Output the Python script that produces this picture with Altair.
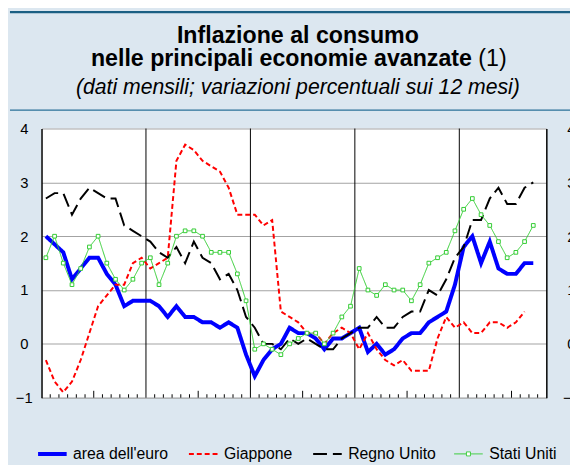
import altair as alt
import pandas as pd

# ---------------- data ----------------
series_names = ["area dell'euro", "Giappone", "Regno Unito", "Stati Uniti"]
series_colors = ["#0000ff", "#ff0000", "#000000", "#33cc33"]
series_dashes = [[1, 0], [5, 3], [14, 6], [1, 0]]

# monthly values, Jan 2013 onwards
euro = [2.0, 1.85, 1.7, 1.2, 1.4, 1.6, 1.6, 1.3, 1.1, 0.7, 0.8, 0.8,
        0.8, 0.7, 0.5, 0.7, 0.5, 0.5, 0.4, 0.4, 0.3, 0.4, 0.3, -0.2,
        -0.6, -0.3, -0.1, 0.0, 0.3, 0.2, 0.2, 0.1, -0.1, 0.1, 0.1, 0.2,
        0.3, -0.15, 0.0, -0.2, -0.1, 0.1, 0.2, 0.2, 0.4, 0.5, 0.6, 1.1,
        1.8, 2.0, 1.5, 1.9, 1.4, 1.3, 1.3, 1.5, 1.5]
japan = [-0.3, -0.7, -0.9, -0.7, -0.3, 0.2, 0.7, 0.9, 1.1, 1.1, 1.5, 1.6,
         1.4, 1.5, 1.6, 3.4, 3.7, 3.6, 3.4, 3.3, 3.2, 2.9, 2.4, 2.4,
         2.4, 2.2, 2.3, 0.6, 0.5, 0.4, 0.2, 0.2, 0.0, 0.2, 0.3, 0.2,
         -0.1, 0.2, -0.1, -0.3, -0.4, -0.3, -0.5, -0.5, -0.5, 0.1, 0.5, 0.3,
         0.4, 0.2, 0.2, 0.4, 0.4, 0.3, 0.4, 0.6]
uk = [2.7, 2.8, 2.8, 2.4, 2.7, 2.9, 2.8, 2.7, 2.7, 2.2, 2.1, 2.0,
      1.9, 1.7, 1.6, 1.8, 1.5, 1.9, 1.6, 1.5, 1.2, 1.3, 1.0, 0.5,
      0.3, 0.0, 0.0, -0.1, 0.1, 0.0, 0.1, 0.0, -0.1, -0.1, 0.1, 0.2,
      0.3, 0.3, 0.5, 0.3, 0.3, 0.5, 0.6, 0.6, 1.0, 0.9, 1.2, 1.6,
      1.8, 2.3, 2.3, 2.7, 2.9, 2.6, 2.6, 2.9, 3.0]
us = [1.6, 2.0, 1.5, 1.1, 1.4, 1.8, 2.0, 1.5, 1.2, 1.0, 1.2, 1.5,
      1.6, 1.1, 1.5, 2.0, 2.1, 2.1, 2.0, 1.7, 1.7, 1.7, 1.3, 0.8,
      -0.1, 0.0, -0.1, -0.2, 0.0, 0.1, 0.2, 0.2, 0.0, 0.2, 0.5, 0.7,
      1.4, 1.0, 0.9, 1.1, 1.0, 1.0, 0.8, 1.1, 1.5, 1.6, 1.7, 2.1,
      2.5, 2.7, 2.4, 2.2, 1.9, 1.6, 1.7, 1.9, 2.2]

year_labels = ["2013", "2014", "2015", "2016", "2017"]
n_months = 58            # Jan 2013 .. Oct 2017 on the axis
y_ticks = [-1, 0, 1, 2, 3, 4]

title_1 = "Inflazione al consumo"
title_2 = "nelle principali economie avanzate"
title_note = "(1)"
subtitle = "(dati mensili; variazioni percentuali sui 12 mesi)"

# ---------------- tables ----------------
rows = []
for name, vals in zip(series_names, [euro, japan, uk, us]):
    for i, v in enumerate(vals):
        rows.append({"series": name, "m": i + 0.5, "v": v})
df = pd.DataFrame(rows)
df_us = df[df["series"] == "Stati Uniti"]

year_bounds = pd.DataFrame({"b": [12 * k for k in range(1, len(year_labels))]})
minor_ticks = pd.DataFrame({"t": [k for k in range(1, n_months) if k % 12 not in (0, 6)]})
mid_ticks = pd.DataFrame({"t": [k for k in range(1, n_months) if k % 12 == 6]})
one = pd.DataFrame({"a": [0]})

# ---------------- style ----------------
FONT = "Liberation Sans"
BG = "#dce7f0"
W, H = 512, 273
GRID = "#a3a3a3"

xscale = alt.Scale(domain=[0, n_months], nice=False, zero=False)
yscale = alt.Scale(domain=[-1, 4], nice=False, zero=False)

label_expr = "[" + ",".join('"%s"' % y for y in year_labels) + "][floor(datum.value / 12)]"
x_axis = alt.Axis(values=[12 * k + 6 for k in range(len(year_labels))], labelExpr=label_expr,
                  ticks=False, tickSize=0, grid=False, domainColor="black", domainWidth=1.5,
                  labelBaseline="middle", labelAlign="center", labelPadding=16,
                  labelFontSize=15, labelFont=FONT, labelColor="black", title=None)
y_axis_left = alt.Axis(values=y_ticks, ticks=False, tickSize=0, grid=True, gridColor=GRID,
                       gridWidth=1.2, domainColor="black", domainWidth=1.5,
                       labelAlign="center", labelBaseline="middle", labelPadding=18,
                       labelFontSize=15, labelFont=FONT, labelColor="black", title=None)
y_axis_right = alt.Axis(values=y_ticks, orient="right", ticks=False, tickSize=0, grid=False,
                        domainColor="black", domainWidth=1.5,
                        labelAlign="center", labelBaseline="middle", labelPadding=25,
                        labelFontSize=15, labelFont=FONT, labelColor="black", title=None)

US_SHAPE = "M-1,0H-0.14M0.14,0H1M-0.14,-0.14H0.14V0.14H-0.14Z"
IS_EURO = "datum.value === \"area dell'euro\""
IS_US = "datum.value === 'Stati Uniti'"
legend = alt.Legend(
    title=None, orient="none", legendX=3, legendY=322, direction="horizontal",
    symbolType=alt.ExprRef(expr=f"{IS_US} ? '{US_SHAPE}' : 'stroke'"),
    symbolStrokeWidth=alt.ExprRef(expr=f"{IS_EURO} ? 4 : ({IS_US} ? 1 : 2)"),
    symbolFillColor=alt.ExprRef(expr=f"{IS_US} ? 'white' : 'transparent'"),
    symbolSize=841, labelFont=FONT, labelFontSize=16,
    labelColor="black", labelOffset=13, columnPadding=16, padding=0,
)

# ---------------- layers ----------------
band_top = alt.Chart(one).mark_rule(color="#1b5f83", strokeWidth=2.2).encode(
    x=alt.value(-32), x2=alt.value(540), y=alt.value(-118))
band_mid = alt.Chart(one).mark_rule(color="#2a7098", strokeWidth=1.3).encode(
    x=alt.value(-32), x2=alt.value(540), y=alt.value(-18.7))

t1 = alt.Chart(pd.DataFrame({"t": [title_1]})).mark_text(
    font=FONT, fontSize=23.5, fontWeight="bold", align="center", baseline="alphabetic",
    color="black").encode(x=alt.value(260), y=alt.value(-87), text="t:N")
t2 = alt.Chart(pd.DataFrame({"t": [title_2]})).mark_text(
    font=FONT, fontSize=23.5, fontWeight="bold", align="right", baseline="alphabetic",
    color="black").encode(x=alt.value(436.5), y=alt.value(-63.7), text="t:N")
t3 = alt.Chart(pd.DataFrame({"t": [title_note]})).mark_text(
    font=FONT, fontSize=23.5, align="left", baseline="alphabetic",
    color="black").encode(x=alt.value(443), y=alt.value(-63.7), text="t:N")
t4 = alt.Chart(pd.DataFrame({"t": [subtitle]})).mark_text(
    font=FONT, fontSize=21.5, fontStyle="italic", align="center", baseline="alphabetic",
    color="black").encode(x=alt.value(260), y=alt.value(-35.3), text="t:N")

year_rules = alt.Chart(year_bounds).mark_rule(color="black", strokeWidth=1).encode(
    x=alt.X("b:Q", scale=xscale, axis=None))
ticks_minor = alt.Chart(minor_ticks).mark_rule(color="black", strokeWidth=1).encode(
    x=alt.X("t:Q", scale=xscale, axis=None), y=alt.value(H - 3.5), y2=alt.value(H))
ticks_mid = alt.Chart(mid_ticks).mark_rule(color="black", strokeWidth=1).encode(
    x=alt.X("t:Q", scale=xscale, axis=None), y=alt.value(H - 7), y2=alt.value(H))

lines = alt.Chart(df).mark_line(interpolate="linear").encode(
    x=alt.X("m:Q", scale=xscale, axis=x_axis),
    y=alt.Y("v:Q", scale=yscale, axis=y_axis_left),
    color=alt.Color("series:N", scale=alt.Scale(domain=series_names, range=series_colors),
                    legend=legend),
    strokeDash=alt.StrokeDash("series:N",
                              scale=alt.Scale(domain=series_names, range=series_dashes),
                              legend=legend),
    strokeWidth={"condition": [
        {"test": "datum.series === \"area dell'euro\"", "value": 4},
        {"test": "datum.series === 'Stati Uniti'", "value": 1}], "value": 2},
    detail="series:N",
)

points = alt.Chart(df_us).mark_point(shape="square", filled=True, fill="white",
                                     stroke="#33cc33", strokeWidth=1, size=14, opacity=1).encode(
    x=alt.X("m:Q", scale=xscale, axis=None),
    y=alt.Y("v:Q", scale=yscale, axis=y_axis_right),
)

chart = alt.layer(
    band_top, band_mid, t1, t2, t3, t4, year_rules, ticks_minor, ticks_mid, lines, points
).resolve_axis(y="independent").properties(
    width=W, height=H, background=BG,
    padding={"left": 34, "top": 119, "right": 24, "bottom": 65},
    autosize=alt.AutoSizeParams(type="none"),
).configure_view(fill="white", stroke=None)

chart.save("out.html", embed_options={"renderer": "svg", "actions": False})
